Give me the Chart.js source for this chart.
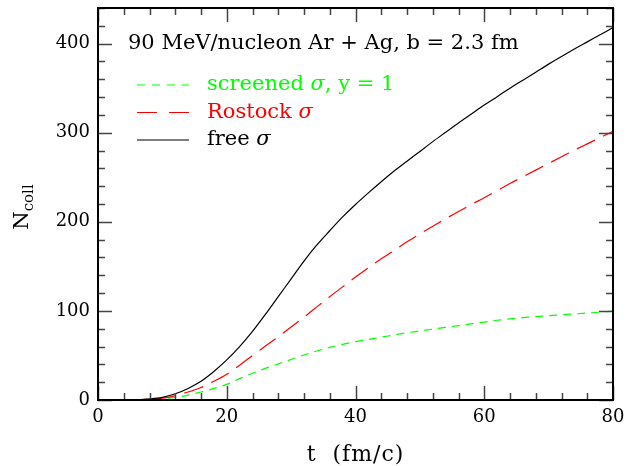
<!DOCTYPE html>
<html>
<head>
<meta charset="utf-8">
<script src="https://cdn.jsdelivr.net/npm/chart.js@4"></script>
<style>
  html, body { margin: 0; padding: 0; background: #fff; }
  #wrap { width: 626px; height: 466px; }
</style>
</head>
<body>
<div id="wrap"><canvas id="chart" width="626" height="466"></canvas></div>
<script>
// --- data ---
const tValues = [0, 2, 4, 6, 8, 10, 12, 14, 16, 18, 20, 22, 24, 26, 28, 30, 32, 34, 36, 38, 40,
                 42, 44, 46, 48, 50, 52, 54, 56, 58, 60, 62, 64, 66, 68, 70, 72, 74, 76, 78, 80];
const freeSigma = [0, 0, 0, 0.3, 1.2, 3, 7, 13, 21, 32, 45, 60, 77, 96, 116, 136, 156, 174, 190, 205.5, 219.5,
                   232.5, 245, 257, 268, 279, 290, 300.5, 311, 321, 331, 340.5, 350, 359, 368, 377, 385.5, 394, 402, 410, 418];
const rostockSigma = [0, 0, 0, 0.2, 0.8, 2, 5, 9, 14, 21, 29, 39, 50, 60.5, 71, 82, 93, 104.5, 116, 127, 138,
                      148.5, 158.5, 168, 177.5, 186.5, 195, 203.5, 211.5, 219.5, 227, 235, 243, 250.5, 258, 265.5, 273, 280.5, 287.5, 294.5, 301.5];
const screenedSigma = [0, 0, 0, 0.2, 0.6, 1.5, 3, 5.5, 9, 13, 17.5, 24, 30, 35.5, 40.5, 45.5, 50.5, 55, 59, 62.5, 65.5,
                       68, 70.5, 73, 75.5, 77.5, 79.5, 81.5, 83.5, 85.5, 87.5, 89.5, 91, 92.4, 93.5, 94.6, 95.6, 96.6, 97.6, 98.6, 99.8];

const xTicks = { min: 0, max: 80, major: 20, minor: 4 };
const yTicks = { min: 0, max: 440, major: 100, minor: 20 };

const plotTitle = '90 MeV/nucleon Ar + Ag, b = 2.3 fm';
const xTitle = 't  (fm/c)';
const yTitle = ['N', 'coll'];

// label pieces: [text, italic]
const legendRows = [
    { parts: [['screened ', false], ['σ', true], [', y = 1', false]], color: '#00ff00', dash: [8, 7] },
    { parts: [['Rostock ', false], ['σ', true]], color: '#ff0000', dash: [20, 12] },
    { parts: [['free ', false], ['σ', true]], color: '#000000', dash: [] }
];

const FONT = '"DejaVu Serif", "Liberation Serif", serif';

function toPoints(ys) {
    return tValues.map((t, i) => ({ x: t, y: ys[i] }));
}

// frame, inward ticks on all four sides, titles and the inline legend
const framePlugin = {
    id: 'framePlugin',
    afterDatasetsDraw(chart) {
        const { ctx, chartArea: a, scales: { x, y } } = chart;
        const majorLen = 14, minorLen = 7;
        ctx.save();

        ctx.strokeStyle = '#444';
        ctx.lineWidth = 1.5;
        ctx.beginPath();
        for (let v = xTicks.min; v <= xTicks.max + 1e-9; v += xTicks.minor) {
            const px = Math.round(x.getPixelForValue(v)) + 0.5;
            const len = Math.abs(v % xTicks.major) < 1e-9 ? majorLen : minorLen;
            ctx.moveTo(px, a.bottom); ctx.lineTo(px, a.bottom - len);
            ctx.moveTo(px, a.top); ctx.lineTo(px, a.top + len);
        }
        for (let v = yTicks.min; v <= yTicks.max + 1e-9; v += yTicks.minor) {
            const py = Math.round(y.getPixelForValue(v)) + 0.5;
            const len = Math.abs(v % yTicks.major) < 1e-9 ? majorLen : minorLen;
            ctx.moveTo(a.left, py); ctx.lineTo(a.left + len, py);
            ctx.moveTo(a.right, py); ctx.lineTo(a.right - len, py);
        }
        ctx.stroke();

        ctx.strokeStyle = '#000';
        ctx.lineWidth = 2;
        ctx.strokeRect(a.left, a.top, a.width, a.height);

        // plot caption
        ctx.fillStyle = '#000';
        ctx.font = '21px ' + FONT;
        ctx.textBaseline = 'middle';
        ctx.textAlign = 'left';
        ctx.fillText(plotTitle, a.left + 30, a.top + 36);

        // legend
        legendRows.forEach((row, i) => {
            const cy = a.top + 77 + i * 27.5;
            ctx.strokeStyle = row.color;
            ctx.lineWidth = 1.2;
            ctx.setLineDash(row.dash);
            ctx.beginPath();
            ctx.moveTo(a.left + 39, cy);
            ctx.lineTo(a.left + 91, cy);
            ctx.stroke();
            ctx.setLineDash([]);
            ctx.fillStyle = row.color;
            let tx = a.left + 109;
            row.parts.forEach(([txt, italic]) => {
                ctx.font = (italic ? 'italic ' : '') + '21px ' + FONT;
                ctx.fillText(txt, tx, cy);
                tx += ctx.measureText(txt).width;
            });
        });

        // axis titles
        ctx.fillStyle = '#000';
        ctx.font = '22px ' + FONT;
        ctx.letterSpacing = '1px';
        ctx.textAlign = 'center';
        ctx.textBaseline = 'alphabetic';
        ctx.fillText(xTitle, (a.left + a.right) / 2, 461);
        ctx.letterSpacing = '0px';

        ctx.translate(28, 207);
        ctx.rotate(-Math.PI / 2);
        ctx.textAlign = 'left';
        ctx.font = '21px ' + FONT;
        const nW = ctx.measureText(yTitle[0]).width;
        ctx.font = '15px ' + FONT;
        const sW = ctx.measureText(yTitle[1]).width;
        const start = -(nW + sW) / 2;
        ctx.font = '21px ' + FONT;
        ctx.fillText(yTitle[0], start, 0);
        ctx.font = '15px ' + FONT;
        ctx.fillText(yTitle[1], start + nW, 5);
        ctx.restore();
    }
};

const ctx = document.getElementById('chart').getContext('2d');
new Chart(ctx, {
    type: 'line',
    data: {
        datasets: [
            { label: 'free σ', data: toPoints(freeSigma), borderColor: '#000000', borderWidth: 1.2 },
            { label: 'Rostock σ', data: toPoints(rostockSigma), borderColor: '#ff0000', borderWidth: 1.2, borderDash: [20, 9] },
            { label: 'screened σ, y = 1', data: toPoints(screenedSigma), borderColor: '#00ff00', borderWidth: 1.2, borderDash: [8, 6] }
        ]
    },
    options: {
        responsive: false,
        animation: false,
        devicePixelRatio: 1,
        layout: { padding: { top: 8, right: 13, left: 0, bottom: 0 } },
        elements: { point: { radius: 0 }, line: { cubicInterpolationMode: 'monotone', fill: false } },
        plugins: { legend: { display: false }, tooltip: { enabled: false } },
        scales: {
            x: {
                type: 'linear', min: xTicks.min, max: xTicks.max,
                grid: { display: false, drawTicks: false },
                border: { display: false },
                ticks: { stepSize: xTicks.major, color: '#000', padding: 7, font: { family: FONT, size: 18 } },
                afterFit: s => { s.height = 66; s.paddingLeft = 0; s.paddingRight = 0; }
            },
            y: {
                min: yTicks.min, max: yTicks.max,
                grid: { display: false, drawTicks: false },
                border: { display: false },
                ticks: {
                    stepSize: yTicks.major, color: '#000', padding: 8, font: { family: FONT, size: 18 },
                    callback: v => (v % yTicks.major === 0 ? v : '')
                },
                afterFit: s => { s.width = 98; s.paddingTop = 0; s.paddingBottom = 0; }
            }
        }
    },
    plugins: [framePlugin]
});
</script>
</body>
</html>
